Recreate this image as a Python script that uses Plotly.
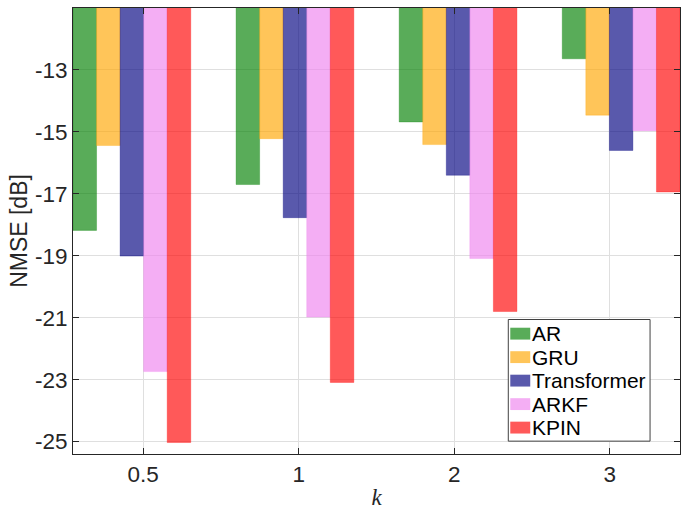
import plotly.graph_objects as go

# NMSE (dB) per method for each k
k_labels = ["0.5", "1", "2", "3"]
methods = ["AR", "GRU", "Transformer", "ARKF", "KPIN"]
nmse_ar = [-18.18, -16.70, -14.68, -12.64]
nmse_gru = [-15.44, -15.22, -15.41, -14.46]
nmse_transformer = [-19.01, -17.77, -16.40, -15.60]
nmse_arkf = [-22.74, -20.98, -19.09, -14.96]
nmse_kpin = [-25.03, -23.09, -20.80, -16.94]
y_ticks = [-25, -23, -21, -19, -17, -15, -13]

series = [nmse_ar, nmse_gru, nmse_transformer, nmse_arkf, nmse_kpin]
base_rgb = [(0, 128, 0), (255, 166, 0), (0, 0, 128), (238, 130, 238), (255, 0, 0)]
alpha = 0.65

W, H = 686, 510
M = dict(l=73, r=5, t=8, b=51)
plot_w = W - M["l"] - M["r"]
plot_h = H - M["t"] - M["b"]


def px_x(x):
    """page pixel -> paper x"""
    return (x - M["l"]) / plot_w


def px_y(y):
    """page pixel -> paper y"""
    return (H - M["b"] - y) / plot_h


group_pos = list(range(1, len(k_labels) + 1))
# tick marks are spread slightly narrower than the bar groups
tick_pos = [2.5 + (i - 1.5) * 0.954 for i in range(len(k_labels))]

fig = go.Figure()
fills = []
for name, vals, (r, g, b) in zip(methods, series, base_rgb):
    fill = f"rgba({r},{g},{b},{alpha})"
    fills.append(fill)
    fig.add_trace(go.Bar(
        x=group_pos, y=vals, name=name, showlegend=False,
        marker=dict(color=fill, line=dict(color=f"rgba({r},{g},{b},0.5)", width=0.6)),
    ))

axis_color = "#262626"
grid_color = "#dfdfdf"

# boxed legend in the lower right corner
shapes = [dict(type="rect", xref="paper", yref="paper",
               x0=px_x(509), x1=px_x(651), y0=px_y(446), y1=px_y(323),
               line=dict(color="#404040", width=1), fillcolor="white", layer="above")]
annotations = []
row0, row_step = 337.3, 23.75
for i, (name, fill) in enumerate(zip(methods, fills)):
    yc = row0 + i * row_step
    shapes.append(dict(type="rect", xref="paper", yref="paper",
                       x0=px_x(511), x1=px_x(531), y0=px_y(yc + 6), y1=px_y(yc - 6),
                       line=dict(width=0), fillcolor=fill, layer="above"))
    annotations.append(dict(text=name, xref="paper", yref="paper",
                            x=px_x(531), y=px_y(yc), xanchor="left", yanchor="middle",
                            showarrow=False, font=dict(size=21, color="black")))

fig.update_layout(
    width=W, height=H,
    margin=M,
    paper_bgcolor="white", plot_bgcolor="white",
    barmode="group", bargap=0.278, bargroupgap=0,
    font=dict(family="Liberation Sans, Arial, sans-serif", size=20, color=axis_color),
    showlegend=False,
    shapes=shapes, annotations=annotations,
    xaxis=dict(
        range=[0.639, 4.361],
        tickmode="array", tickvals=tick_pos, ticktext=k_labels,
        ticks="inside", ticklen=6, tickcolor=axis_color,
        showline=True, linecolor=axis_color, linewidth=1, mirror="ticks",
        showgrid=True, gridcolor=grid_color, gridwidth=1, zeroline=False,
        tickfont=dict(size=22.5),
        title=dict(text="k", font=dict(family="Liberation Serif, Times New Roman, serif",
                                       size=23, style="italic"), standoff=2),
    ),
    yaxis=dict(
        range=[-25.4, -11],
        tickmode="array", tickvals=y_ticks, ticktext=[str(v) for v in y_ticks],
        ticks="inside", ticklen=6, tickcolor=axis_color,
        showline=True, linecolor=axis_color, linewidth=1, mirror="ticks",
        showgrid=True, gridcolor=grid_color, gridwidth=1, zeroline=False,
        tickfont=dict(size=22.5),
        title=dict(text="NMSE [dB]", font=dict(size=23), standoff=0),
    ),
)

fig.write_html("out.html")
